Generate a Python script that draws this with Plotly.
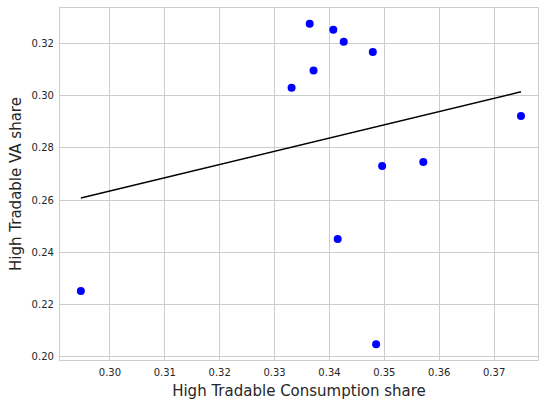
import plotly.graph_objects as go

consumption_share = [0.2947, 0.3331, 0.3364, 0.3371, 0.3407, 0.3426, 0.3479, 0.3496, 0.3571, 0.3749, 0.3415, 0.3485]
va_share = [0.2250, 0.3031, 0.3277, 0.3098, 0.3254, 0.3208, 0.3169, 0.2731, 0.2746, 0.2923, 0.2450, 0.2046]

fit_x = [0.2947, 0.3749]
fit_y = [0.2608, 0.3016]

x_ticks = [0.30, 0.31, 0.32, 0.33, 0.34, 0.35, 0.36, 0.37]
y_ticks = [0.20, 0.22, 0.24, 0.26, 0.28, 0.30, 0.32]

fig = go.Figure()
fig.add_trace(go.Scatter(x=consumption_share, y=va_share, mode="markers",
                         marker=dict(color="#0000ff", size=8, line=dict(width=0)),
                         showlegend=False))
fig.add_trace(go.Scatter(x=fit_x, y=fit_y, mode="lines",
                         line=dict(color="black", width=1.5), showlegend=False))

font_family = "DejaVu Sans"
axis_common = dict(showgrid=True, gridcolor="#cccccc", gridwidth=1,
                   showline=True, linecolor="#cccccc", linewidth=1.25, mirror=True,
                   zeroline=False, ticks="outside", ticklen=3, tickcolor="rgba(0,0,0,0)",
                   tickfont=dict(family=font_family, size=10, color="#262626"))

fig.update_layout(
    width=539, height=405,
    margin=dict(l=60, r=1, t=8, b=45),
    paper_bgcolor="white", plot_bgcolor="white",
    font=dict(family=font_family, color="#262626"),
    xaxis=dict(range=[0.2909, 0.3780], tickvals=x_ticks, ticktext=[f"{v:.2f}" for v in x_ticks],
               title=dict(text="High Tradable Consumption share", font=dict(size=15, family=font_family, color="#262626"), standoff=8),
               **axis_common),
    yaxis=dict(range=[0.1985, 0.3338], tickvals=y_ticks, ticktext=[f"{v:.2f}" for v in y_ticks],
               title=dict(text="High Tradable VA share", font=dict(size=15, family=font_family, color="#262626"), standoff=6),
               **axis_common),
)

fig.write_html("out.html")
